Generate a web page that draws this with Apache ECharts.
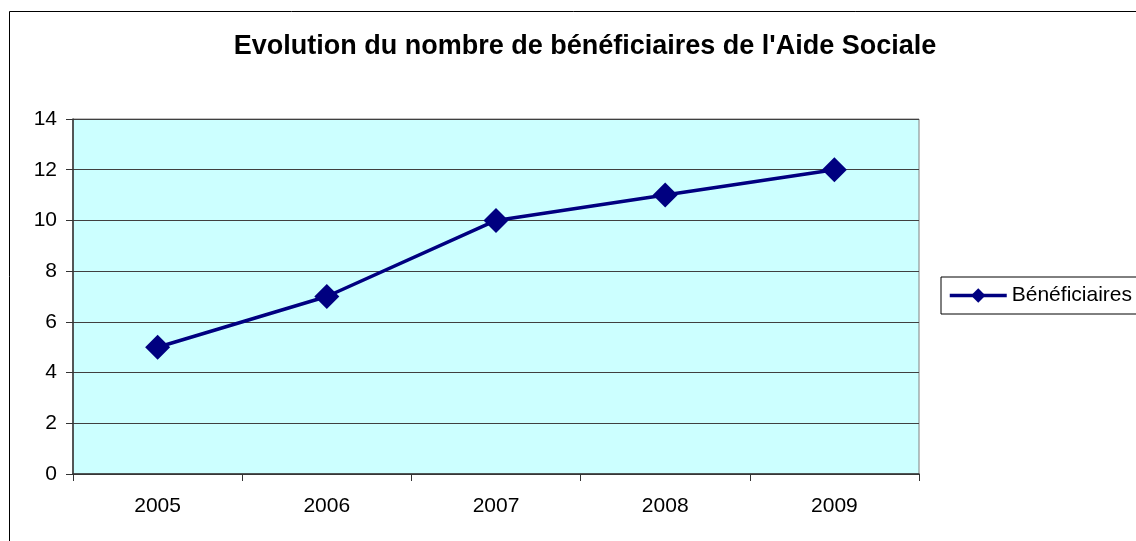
<!DOCTYPE html>
<html>
<head>
<meta charset="utf-8">
<script src="https://cdn.jsdelivr.net/npm/echarts@6/dist/echarts.min.js"></script>
<style>
    html, body { margin: 0; padding: 0; background: #fff; }
    #chart { width: 1136px; height: 541px; }
</style>
</head>
<body>
<div id="chart"></div>
<script>
// données
var annees = ['2005', '2006', '2007', '2008', '2009'];
var beneficiaires = [5, 7, 10, 11, 12];
var titre = "Evolution du nombre de bénéficiaires de l'Aide Sociale";
var nomSerie = 'Bénéficiaires';

var myChart = echarts.init(document.getElementById('chart'));
var police = 'Liberation Sans, Arial, sans-serif';

var option = {
    animation: false,
    backgroundColor: '#fff',
    textStyle: { fontFamily: police },
    // cadre du graphique
    graphic: [{
        type: 'rect',
        shape: { x: 9.5, y: 11.5, width: 1300, height: 700 },
        style: { fill: 'none', stroke: '#000', lineWidth: 1 },
        silent: true
    }],
    title: {
        text: titre,
        left: 580,
        top: 28,
        textAlign: 'center',
        textStyle: { fontSize: 27, fontWeight: 'bold', color: '#000', fontFamily: police }
    },
    legend: {
        data: [nomSerie],
        left: 941,
        top: 277,
        orient: 'vertical',
        padding: [8, 30, 8, 7],
        borderColor: '#000',
        borderWidth: 1,
        itemWidth: 57,
        itemHeight: 18,
        lineStyle: { width: 3.5 },
        textStyle: { fontSize: 21, color: '#000', fontFamily: police }
    },
    grid: {
        left: 73,
        top: 119,
        width: 846,
        height: 355,
        show: true,
        backgroundColor: '#CCFFFF',
        borderColor: '#808080',
        borderWidth: 1
    },
    xAxis: {
        type: 'category',
        data: annees,
        boundaryGap: true,
        axisLine: { lineStyle: { color: '#333', width: 1.5 } },
        axisTick: { show: true, length: 7, inside: false, lineStyle: { color: '#333' } },
        axisLabel: { margin: 22, fontSize: 21, color: '#000', fontFamily: police }
    },
    yAxis: {
        type: 'value',
        min: 0,
        max: 14,
        interval: 2,
        axisLine: { show: true, lineStyle: { color: '#333', width: 1.5 } },
        axisTick: { show: true, length: 7, lineStyle: { color: '#333' } },
        axisLabel: { margin: 16, fontSize: 21, color: '#000', fontFamily: police },
        splitLine: { show: true, lineStyle: { color: '#404040', width: 1 } }
    },
    series: [{
        name: nomSerie,
        type: 'line',
        data: beneficiaires,
        symbol: 'diamond',
        symbolSize: 25,
        lineStyle: { color: '#000080', width: 3.5 },
        itemStyle: { color: '#000080' }
    }]
};
myChart.setOption(option);
</script>
</body>
</html>
